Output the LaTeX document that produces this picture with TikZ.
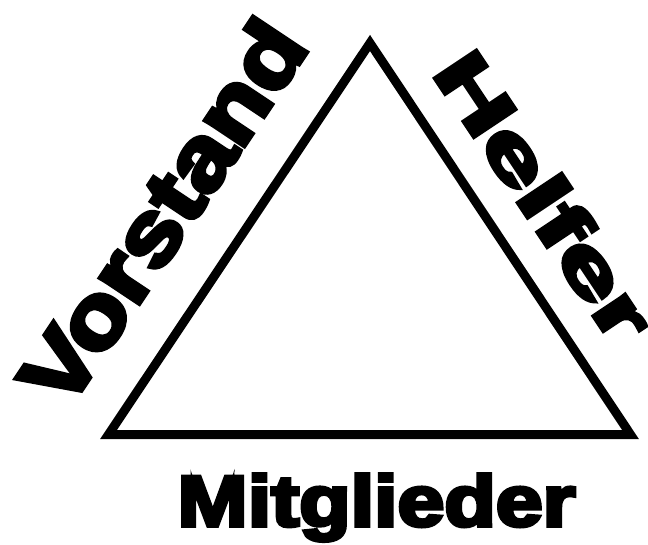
\documentclass[tikz,border=0pt]{standalone}
\usepackage{fontspec}
\newfontfamily\blackfont{Liberation Sans Bold}[FakeBold=5]
\tikzset{
  tri/.style={line width=9pt, line join=miter, draw=black},
  word/.style={inner sep=0pt, outer sep=0pt, anchor=base, text=black}
}
\begin{document}
\begin{tikzpicture}[x=1pt, y=-1pt]
\useasboundingbox (0,0) rectangle (648,544);
\coordinate (top) at (370,43);
\coordinate (bl) at (108.5,434.5);
\coordinate (br) at (630.5,434.5);
\draw[tri] (top) -- (br) -- (bl) -- cycle;
\node[word, rotate=56.3] (vorstand) at (188.5,229.8)
  {\scalebox{1.16}[1]{\fontsize{89}{89}\blackfont Vorstand}};
\node[word, rotate=-56.3] (helfer) at (522.7,210.4)
  {\scalebox{1.6}[1]{\fontsize{73}{73}\blackfont Helfer}};
\node[word] (mitglieder) at (376.5,526)
  {\scalebox{1.17}[1]{\fontsize{72}{72}\blackfont Mitglieder}};
\end{tikzpicture}
\end{document}
